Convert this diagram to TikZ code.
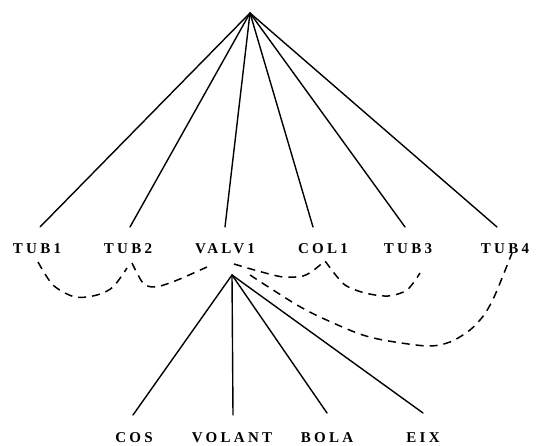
\documentclass[tikz,border=0pt]{standalone}
\usepackage{fontspec}
\setmainfont{Liberation Serif}
\newfontfamily\labfont[LetterSpace=22]{Liberation Serif}
\begin{document}
\begin{tikzpicture}[x=1pt,y=-1pt,
  lab/.style={font=\labfont\bfseries\fontsize{15}{16}\selectfont, inner sep=0pt, anchor=base},
  sol/.style={line width=1.4pt, line cap=round},
  dsh/.style={line width=1.5pt, dash pattern=on 8pt off 6pt}]
\useasboundingbox (0,0) rectangle (538,446);
\clip (0,0) rectangle (538,446);
\coordinate (root) at (250,13);
\node[lab] (tub1) at (37,254) {TUB1};
\node[lab] (tub2) at (128,254) {TUB2};
\node[lab] (valv1) at (225,254) {VALV1};
\node[lab] (col1) at (323,254) {COL1};
\node[lab] (tub3) at (408,254) {TUB3};
\node[lab] (tub4) at (505,254) {TUB4};
\node[lab] (cos) at (134,442) {COS};
\node[lab] (volant) at (232,442) {VOLANT};
\node[lab] (bola) at (327,442) {BOLA};
\node[lab] (eix) at (423,442) {EIX};
% top-level ends
\coordinate (e1) at (40,227);
\coordinate (e2) at (130,227);
\coordinate (e3) at (225,227);
\coordinate (e4) at (313,227);
\coordinate (e5) at (405,227);
\coordinate (e6) at (497,227);
\foreach \e in {e1,e2,e3,e4,e5,e6} \draw[sol] (root) -- (\e);
% sub-tree
\coordinate (sr) at (232,275);
\coordinate (f1) at (133,415);
\coordinate (f2) at (233,415);
\coordinate (f3) at (327,413);
\coordinate (f4) at (423,413);
\foreach \f in {f1,f2,f3,f4} \draw[sol] (sr) -- (\f);
% dashed links
\draw[dsh] plot[smooth] coordinates {(38,262) (53,285) (75,297) (97,295) (113,287) (127,268)};
\draw[dsh] plot[smooth] coordinates {(132,263) (143,283) (155,287) (175,281) (207,267)};
\draw[dsh] plot[smooth] coordinates {(234,264) (258,271) (283,277) (303,276) (314,270)} -- (325,261) -- plot[smooth] coordinates {(331,269) (345,285) (365,293) (388,296) (407,290) (420,273)};
\draw[dsh] plot[smooth] coordinates {(250,275) (270,288) (297,305) (320,317) (357,333) (383,340) (427,346) (450,342) (470,330) (484,315) (495,295) (512,253)};
\end{tikzpicture}
\end{document}
